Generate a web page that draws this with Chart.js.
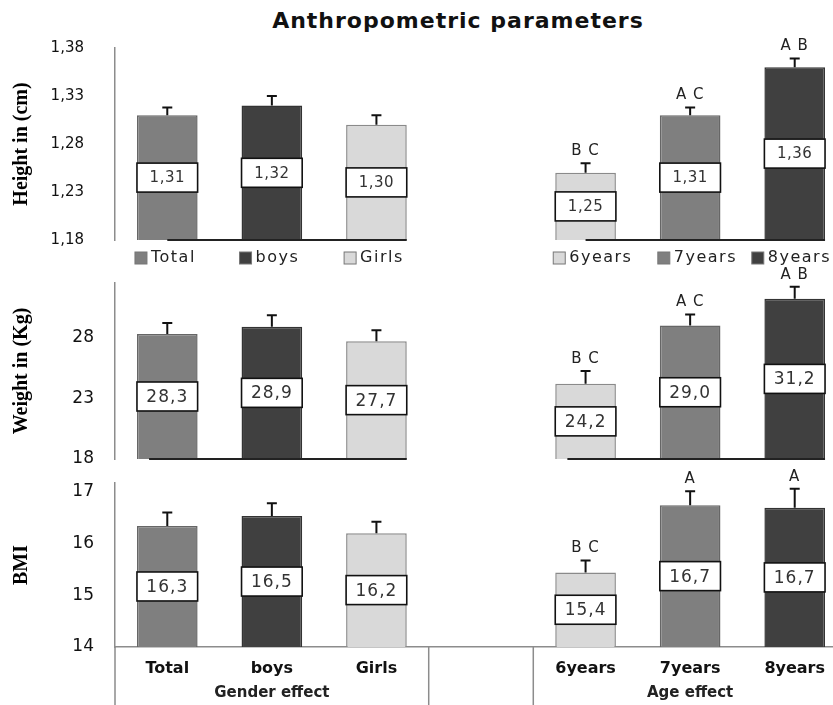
<!DOCTYPE html>
<html>
<head>
<meta charset="utf-8">
<title>Anthropometric parameters</title>
<script src="https://cdn.jsdelivr.net/npm/chart.js@4.4.0/dist/chart.umd.min.js"></script>
<style>
  html, body { margin: 0; padding: 0; background: #fff; overflow: hidden; }
  body { width: 833px; height: 705px; position: relative; }
  canvas { position: absolute; left: 0; }
  #title { position: absolute; left: 0; top: 8px; width: 916px; text-align: center;
           font: bold 22px "DejaVu Sans"; letter-spacing: 1px; color: #111; }
</style>
</head>
<body>
<div id="title">Anthropometric parameters</div>
<canvas id="heightChart" width="847" height="275" style="top:0px"></canvas>
<canvas id="weightChart" width="847" height="210" style="top:260px"></canvas>
<canvas id="bmiChart" width="847" height="245" style="top:460px"></canvas>
<script>
// categories (index 3 is the empty slot between the two groups)
const categories = ['Total', 'boys', 'Girls', '', '6years', '7years', '8years'];
const groupNames = ['Gender effect', 'Age effect'];
const barColors = ['#7f7f7f', '#404040', '#d9d9d9', null, '#d9d9d9', '#7f7f7f', '#404040'];
const barBorders = ['#666666', '#333333', '#8a8a8a', null, '#8a8a8a', '#666666', '#333333'];

// Height (cm)
const heightMeans = [1.31, 1.32, 1.30, null, 1.25, 1.31, 1.36];
const heightErrors = [0.008, 0.01, 0.01, null, 0.01, 0.008, 0.009];
const heightLetters = ['', '', '', '', 'B C', 'A C', 'A B'];
const heightTicks = [1.18, 1.23, 1.28, 1.33, 1.38];

// Weight (Kg)
const weightMeans = [28.3, 28.9, 27.7, null, 24.2, 29.0, 31.2];
const weightErrors = [0.9, 0.95, 0.9, null, 1.05, 0.9, 1.0];
const weightLetters = ['', '', '', '', 'B C', 'A C', 'A B'];
const weightTicks = [18, 23, 28];

// BMI
const bmiMeans = [16.34, 16.53, 16.2, null, 15.44, 16.74, 16.69];
const bmiErrors = [0.26, 0.25, 0.22, null, 0.23, 0.27, 0.37];
const bmiLetters = ['', '', '', '', 'B C', 'A', 'A'];
const bmiTicks = [14, 15, 16, 17];

const VISIBLE_RIGHT = 833;

function comma(v, digits) {
    return v.toFixed(digits).replace('.', ',');
}

// error bars, letters, value boxes, baselines, legend and group labels
const annotate = {
    id: 'annotate',
    afterDatasetsDraw(chart, args, opts) {
        const ctx = chart.ctx;
        const meta = chart.getDatasetMeta(0);
        const y = chart.scales.y;
        const x = chart.scales.x;
        const area = chart.chartArea;
        const values = chart.data.datasets[0].data;
        const floor = y.getPixelForValue(y.min);
        ctx.save();

        // dark baseline under each group of bars
        if (opts.baseline) {
            ctx.strokeStyle = '#222';
            ctx.lineWidth = 2;
            [[0, 2], [4, 6]].forEach(([a, b]) => {
                const first = meta.data[a], last = meta.data[b];
                ctx.beginPath();
                ctx.moveTo(first.x - first.width / 2 + first.width * opts.baseFrom, floor);
                ctx.lineTo(last.x + last.width / 2, floor);
                ctx.stroke();
            });
        }

        meta.data.forEach((bar, i) => {
            const v = values[i];
            if (v == null) return;
            const half = bar.width / 2;

            // error bar (upper only)
            const top = y.getPixelForValue(v + opts.errors[i]);
            ctx.strokeStyle = '#111';
            ctx.lineWidth = 2;
            ctx.beginPath();
            ctx.moveTo(bar.x, bar.y);
            ctx.lineTo(bar.x, top);
            ctx.moveTo(bar.x - 5, top);
            ctx.lineTo(bar.x + 5, top);
            ctx.stroke();

            // significance letters
            if (opts.letters[i]) {
                ctx.fillStyle = '#222';
                ctx.font = '15px "DejaVu Sans"';
                ctx.letterSpacing = '1px';
                ctx.textAlign = 'center';
                ctx.textBaseline = 'middle';
                ctx.fillText(opts.letters[i], bar.x, top - 12);
            }

            // value box in the middle of the bar
            const mid = (bar.y + floor) / 2;
            const h = opts.boxHeight;
            ctx.fillStyle = '#fff';
            ctx.fillRect(bar.x - half, mid - h / 2, bar.width, h);
            ctx.strokeStyle = '#111';
            ctx.lineWidth = 1.6;
            ctx.strokeRect(bar.x - half, mid - h / 2, bar.width, h);
            ctx.fillStyle = '#333';
            ctx.font = opts.boxFont;
            ctx.letterSpacing = opts.boxSpacing;
            ctx.textAlign = 'center';
            ctx.textBaseline = 'middle';
            ctx.fillText(comma(v, opts.digits), bar.x, mid + 1);
        });

        // legend under each bar
        if (opts.legend) {
            ctx.font = '16px "DejaVu Sans"';
            ctx.letterSpacing = '1.5px';
            ctx.textAlign = 'left';
            ctx.textBaseline = 'middle';
            meta.data.forEach((bar, i) => {
                if (values[i] == null) return;
                const textW = ctx.measureText(categories[i]).width;
                const lx = Math.min(bar.x - bar.width / 2 - 2, VISIBLE_RIGHT - 16 - textW - 2);
                const ly = area.bottom + 18;
                ctx.fillStyle = barColors[i];
                ctx.fillRect(lx, ly - 6, 12, 12);
                ctx.strokeStyle = '#777';
                ctx.lineWidth = 1;
                ctx.strokeRect(lx, ly - 6, 12, 12);
                ctx.fillStyle = '#222';
                ctx.fillText(categories[i], lx + 16, ly);
            });
        }

        // group labels and separators under the x axis
        if (opts.groups) {
            const bottom = chart.height;
            ctx.strokeStyle = '#8c8c8c';
            ctx.lineWidth = 1.5;
            ctx.beginPath();
            ctx.moveTo(area.left, area.bottom);
            ctx.lineTo(area.left, bottom);
            [2, 3].forEach(i => {
                const sx = (x.getPixelForValue(i) + x.getPixelForValue(i + 1)) / 2;
                ctx.moveTo(sx, area.bottom);
                ctx.lineTo(sx, bottom);
            });
            ctx.stroke();
            ctx.fillStyle = '#222';
            ctx.font = 'bold 15px "DejaVu Sans"';
            ctx.letterSpacing = '0px';
            ctx.textAlign = 'center';
            ctx.textBaseline = 'middle';
            ctx.fillText(groupNames[0], x.getPixelForValue(1), area.bottom + 46);
            ctx.fillText(groupNames[1], x.getPixelForValue(5), area.bottom + 46);
        }
        ctx.restore();
    }
};

function makeChart(id, cfg) {
    const ctx = document.getElementById(id).getContext('2d');
    return new Chart(ctx, {
        type: 'bar',
        data: {
            labels: categories,
            datasets: [{
                data: cfg.values,
                backgroundColor: barColors,
                borderColor: barBorders,
                borderWidth: 1.5,
                barPercentage: 0.58,
                categoryPercentage: 1.0,
            }],
        },
        options: {
            responsive: false,
            animation: false,
            layout: { padding: { top: cfg.padTop, bottom: cfg.padBottom, left: 0, right: 0 } },
            plugins: {
                legend: { display: false },
                tooltip: { enabled: false },
                annotate: cfg.annotate,
            },
            scales: {
                x: {
                    display: cfg.showX,
                    afterFit: s => { if (cfg.showX) s.height = 58; },
                    grid: { display: false },
                    border: { display: true, color: '#8c8c8c', width: 1.5 },
                    ticks: {
                        autoSkip: false,
                        maxRotation: 0,
                        padding: 4,
                        color: '#111',
                        font: { family: 'DejaVu Sans', size: 16, weight: 'bold' },
                    },
                },
                y: {
                    min: cfg.min,
                    max: cfg.max,
                    afterFit: s => { s.width = 115; s.paddingTop = 0; s.paddingBottom = 0; },
                    afterBuildTicks: s => { s.ticks = cfg.ticks.map(v => ({ value: v })); },
                    grid: { display: false },
                    border: { display: true, color: '#8c8c8c', width: 1.5 },
                    ticks: {
                        padding: cfg.tickPad,
                        color: '#111',
                        font: { family: 'DejaVu Sans', size: cfg.tickSize },
                        callback: v => comma(v, cfg.tickDigits),
                    },
                    title: {
                        display: true,
                        text: cfg.title,
                        color: '#000',
                        font: { family: 'Liberation Serif', size: 20, weight: 'bold' },
                        padding: { top: 10, bottom: 0 },
                    },
                },
            },
        },
        plugins: [annotate],
    });
}

makeChart('heightChart', {
    values: heightMeans, min: 1.18, max: 1.38, ticks: heightTicks, tickDigits: 2,
    tickSize: 15, tickPad: 23, padTop: 48, padBottom: 35, showX: false,
    title: 'Height in (cm)',
    annotate: { errors: heightErrors, letters: heightLetters, digits: 2, boxHeight: 29,
                boxFont: '15px "DejaVu Sans"', boxSpacing: '0.5px',
                baseline: true, baseFrom: 0.5, legend: true },
});

makeChart('weightChart', {
    values: weightMeans, min: 18, max: 32.5, ticks: weightTicks, tickDigits: 0,
    tickSize: 17, tickPad: 13, padTop: 23, padBottom: 11, showX: false,
    title: 'Weight in (Kg)',
    annotate: { errors: weightErrors, letters: weightLetters, digits: 1, boxHeight: 29,
                boxFont: '17px "DejaVu Sans"', boxSpacing: '1px',
                baseline: true, baseFrom: 0.2 },
});

makeChart('bmiChart', {
    values: bmiMeans, min: 14, max: 17.17, ticks: bmiTicks, tickDigits: 0,
    tickSize: 17, tickPad: 13, padTop: 23, padBottom: 0, showX: true,
    title: 'BMI',
    annotate: { errors: bmiErrors, letters: bmiLetters, digits: 1, boxHeight: 29,
                boxFont: '17px "DejaVu Sans"', boxSpacing: '1px', groups: true },
});
</script>
</body>
</html>
